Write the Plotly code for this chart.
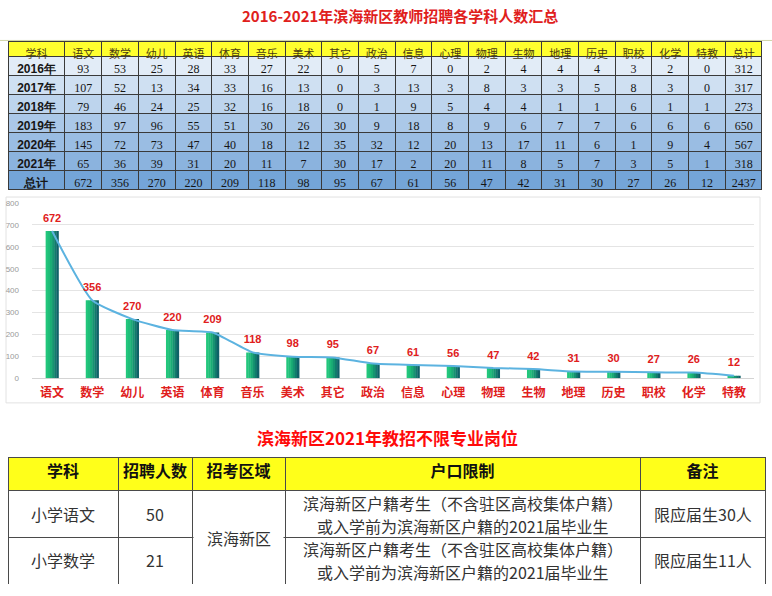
import plotly.graph_objects as go

W, H = 772, 596

# ---------------- data ----------------
subjects = ["语文", "数学", "幼儿", "英语", "体育", "音乐", "美术", "其它", "政治",
            "信息", "心理", "物理", "生物", "地理", "历史", "职校", "化学", "特教"]
years = ["2016年", "2017年", "2018年", "2019年", "2020年", "2021年"]
y2016 = [93, 53, 25, 28, 33, 27, 22, 0, 5, 7, 0, 2, 4, 4, 4, 3, 2, 0]
y2017 = [107, 52, 13, 34, 33, 16, 13, 0, 3, 13, 3, 8, 3, 3, 5, 8, 3, 0]
y2018 = [79, 46, 24, 25, 32, 16, 18, 0, 1, 9, 5, 4, 4, 1, 1, 6, 1, 1]
y2019 = [183, 97, 96, 55, 51, 30, 26, 30, 9, 18, 8, 9, 6, 7, 7, 6, 6, 6]
y2020 = [145, 72, 73, 47, 40, 18, 12, 35, 32, 12, 20, 13, 17, 11, 6, 1, 9, 4]
y2021 = [65, 36, 39, 31, 20, 11, 7, 30, 17, 2, 20, 11, 8, 5, 7, 3, 5, 1]
subject_totals = [672, 356, 270, 220, 209, 118, 98, 95, 67, 61, 56, 47, 42, 31, 30, 27, 26, 12]
year_totals = [312, 317, 273, 650, 567, 318]
grand_total = 2437

job_headers = ["学科", "招聘人数", "招考区域", "户口限制", "备注"]
job_subjects = ["小学语文", "小学数学"]
job_counts = [50, 21]
job_area = "滨海新区"
job_hukou = [["滨海新区户籍考生（不含驻区高校集体户籍）", "或入学前为滨海新区户籍的2021届毕业生"],
             ["滨海新区户籍考生（不含驻区高校集体户籍）", "或入学前为滨海新区户籍的2021届毕业生"]]
job_notes = ["限应届生30人", "限应届生11人"]

title1 = "2016-2021年滨海新区教师招聘各学科人数汇总"
title2 = "滨海新区2021年教招不限专业岗位"

# ---------------- helpers ----------------
def px(x):
    return x / W

def py(y):
    return 1 - y / H

RED = "#e0201c"
CJK = "Noto Sans CJK SC"

fig = go.Figure()

# ---------------- top table ----------------
year_rows = [y2016, y2017, y2018, y2019, y2020, y2021]
first_col = years + ["总计"]
columns = [first_col]
for j in range(len(subjects)):
    columns.append([r[j] for r in year_rows] + [subject_totals[j]])
columns.append(year_totals + [grand_total])

row_fill = ["#e2ecf7", "#cfe0f2", "#bdd4ed", "#abc8e8", "#9abde3", "#8bb3de", "#74a5d8"]
ncols = len(columns)
col_fonts = ["Liberation Sans"] + ["Liberation Serif"] * (ncols - 1)
col_weights = ["bold"] + ["normal"] * (ncols - 1)

fig.add_trace(go.Table(
    domain=dict(x=[px(8), px(763)], y=[py(192), py(38)]),
    columnwidth=[57] + [36.7] * (ncols - 1),
    header=dict(values=["学科"] + subjects + ["总计"],
                fill_color="#ffff2e",
                line=dict(color="#3a3a3a", width=1),
                align="center", height=15,
                font=dict(family=CJK, size=11, color="#4a3c10")),
    cells=dict(values=columns,
               fill_color=[row_fill],
               line=dict(color="#3a3a3a", width=1),
               align="center", height=19,
               font=dict(family=col_fonts, size=12, color="#161616", weight=col_weights)),
))

# ---------------- bar chart ----------------
strip_colors = ["#22c77c", "#1fbe79", "#1aad74", "#159570", "#117b6c", "#0e6167"]
bar_w = 0.32
n = len(strip_colors)
sw = bar_w / n
for i, c in enumerate(strip_colors):
    fig.add_trace(go.Bar(
        x=subjects, y=subject_totals,
        width=sw + 0.008, offset=-bar_w / 2 + i * sw,
        marker=dict(color=c, line=dict(width=0)),
        hoverinfo="skip", showlegend=False,
        xaxis="x", yaxis="y",
    ))

fig.add_trace(go.Scatter(
    x=subjects, y=subject_totals,
    mode="lines",
    line=dict(color="#5cb3e0", width=2, shape="spline", smoothing=0.5),
    showlegend=False, hoverinfo="skip",
    xaxis="x", yaxis="y",
))
fig.add_trace(go.Scatter(
    x=subjects, y=subject_totals,
    mode="markers+text",
    marker=dict(size=9, color="rgba(0,0,0,0)"),
    text=[str(v) for v in subject_totals],
    textposition="top center",
    textfont=dict(family="Liberation Sans", size=11, color=RED, weight="bold"),
    showlegend=False, cliponaxis=False, hoverinfo="skip",
    xaxis="x", yaxis="y",
))

# ---------------- bottom table (grid + header) ----------------
bt_left, bt_top = 8, 460
bt_widths = [110, 74, 93, 355, 125]
bt_head_h, bt_row_h = 33, 47
fig.add_trace(go.Table(
    domain=dict(x=[px(bt_left), px(bt_left + sum(bt_widths))],
                y=[py(bt_top + bt_head_h + 2 * bt_row_h + 2), py(bt_top)]),
    columnwidth=bt_widths,
    header=dict(values=job_headers,
                fill_color="#ffff1a",
                line=dict(color="#4a4a4a", width=1),
                align="center", height=bt_head_h,
                font=dict(family=CJK, size=16, color="#111111", weight="bold")),
    cells=dict(values=[[""] * len(job_subjects)] * len(job_headers),
               fill_color="#ffffff",
               line=dict(color="#4a4a4a", width=1),
               align="center", height=bt_row_h,
               font=dict(family=CJK, size=16, color="#333333")),
))

# cell texts of the bottom table, centred in their cells
col_centers = []
acc = bt_left
for w in bt_widths:
    col_centers.append(acc + w / 2)
    acc += w
body_font = dict(family=CJK, size=16, color="#333333")
annotations = []

def add_text(txt, xc, yc):
    annotations.append(dict(text=txt, x=px(xc), y=py(yc), xref="paper", yref="paper",
                            xanchor="center", yanchor="middle", showarrow=False,
                            borderpad=0, font=body_font))

for r in range(len(job_subjects)):
    yc = bt_top + bt_head_h + bt_row_h * (r + 0.5) + 1.5
    add_text(job_subjects[r], col_centers[0], yc)
    add_text(str(job_counts[r]), col_centers[1], yc)
    add_text(job_hukou[r][0], col_centers[3], yc - 11.5)
    add_text(job_hukou[r][1], col_centers[3], yc + 11.5)
    add_text(job_notes[r], col_centers[4], yc)
merged_y = bt_top + bt_head_h + bt_row_h
add_text(job_area, col_centers[2], merged_y + 2)

annotations.append(dict(text=title1, x=px(400), y=py(12), xref="paper", yref="paper",
                        xanchor="center", yanchor="middle", showarrow=False,
                        font=dict(family=CJK, size=15, color=RED, weight="bold")))
annotations.append(dict(text=title2, x=px(387), y=py(440), xref="paper", yref="paper",
                        xanchor="center", yanchor="middle", showarrow=False,
                        font=dict(family=CJK, size=17, color="#ff0a0a", weight="bold")))

merged_x0 = bt_left + bt_widths[0] + bt_widths[1]
merged_x1 = merged_x0 + bt_widths[2]

fig.update_layout(
    width=W, height=H,
    margin=dict(l=0, r=0, t=0, b=0),
    paper_bgcolor="white", plot_bgcolor="white",
    font=dict(family=CJK),
    barmode="overlay",
    showlegend=False,
    xaxis=dict(domain=[px(32), px(754)], type="category", range=[-0.5, len(subjects) - 0.5],
               tickfont=dict(family=CJK, size=12, color=RED, weight="bold"),
               showgrid=False, showline=False, ticks="", anchor="y", ticklabelstandoff=6),
    yaxis=dict(domain=[py(380), py(202)], range=[0, 800], dtick=100,
               tickfont=dict(family="Liberation Sans", size=8, color="#9a9a9a"),
               gridcolor="#e4e4e4", gridwidth=1,
               zeroline=True, zerolinecolor="#d4d4d4", zerolinewidth=1,
               showline=False, ticks="", anchor="x", ticklabelstandoff=12),
    annotations=annotations,
    shapes=[
        dict(type="line", xref="paper", yref="paper", x0=0, x1=1, y0=py(37), y1=py(37),
             line=dict(color="#cfd3a6", width=1), layer="below"),
        dict(type="rect", xref="paper", yref="paper", x0=px(6), x1=px(760),
             y0=py(405), y1=py(196), line=dict(color="#e2e2e2", width=1), layer="below"),
        dict(type="rect", xref="paper", yref="paper", x0=px(merged_x0 + 1.5), x1=px(merged_x1 - 1.5),
             y0=py(merged_y + 3), y1=py(merged_y - 3), fillcolor="white", line=dict(width=0), layer="above"),
    ],
)

fig.write_html("out.html", config={"displayModeBar": False},
               post_script="document.body.style.margin='0px';document.body.style.overflow='hidden';")
